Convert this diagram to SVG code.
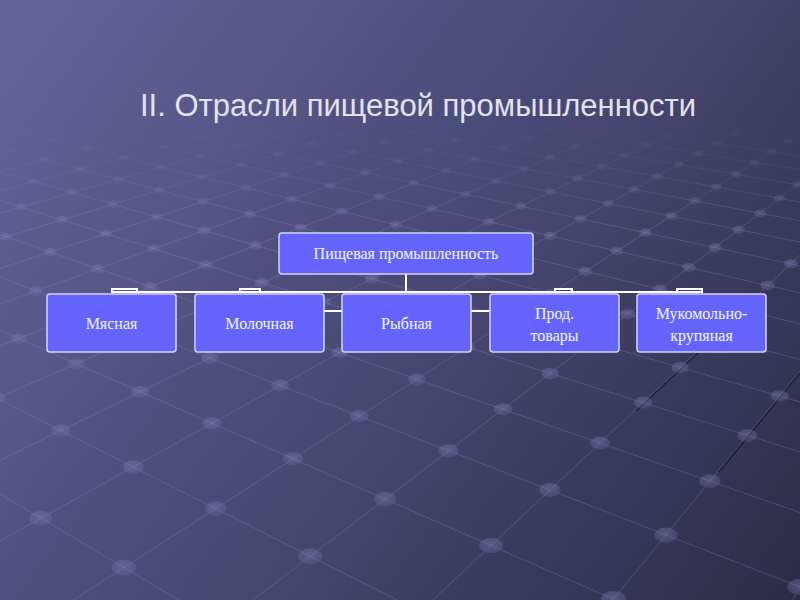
<svg xmlns="http://www.w3.org/2000/svg" xmlns:xlink="http://www.w3.org/1999/xlink" width="800" height="600" viewBox="0 0 800 600">
<defs>
<linearGradient id="bg" x1="0" y1="0" x2="800" y2="600" gradientUnits="userSpaceOnUse">
<stop offset="0" stop-color="#64649a"/>
<stop offset="0.45" stop-color="#4c4c7a"/>
<stop offset="1" stop-color="#2c2c46"/>
</linearGradient>
<linearGradient id="fade" x1="0" y1="118" x2="0" y2="230" gradientUnits="userSpaceOnUse">
<stop offset="0" stop-color="#000"/>
<stop offset="1" stop-color="#fff"/>
</linearGradient>
<mask id="gm"><rect x="0" y="0" width="800" height="600" fill="url(#fade)"/></mask>
<radialGradient id="dg" cx="0.45" cy="0.35" r="0.7">
<stop offset="0" stop-color="#8484bc" stop-opacity="0.42"/>
<stop offset="1" stop-color="#6a6aa0" stop-opacity="0.3"/>
</radialGradient>
<ellipse id="d" cx="0" cy="0" rx="10" ry="6.5" fill="url(#dg)"/>
<style>
.gl{stroke:#9a9acc;stroke-opacity:0.26;stroke-width:1;fill:none}
.sh{stroke:#0a0a18;stroke-opacity:0.6;stroke-width:1.2;fill:none}
.box{fill:#6464fc;stroke:#d4d4ff;stroke-width:1.5}
.lbl{font-family:"Liberation Serif","Times New Roman",serif;font-size:16px;fill:#f4f4ff;text-anchor:middle}
.con{stroke:#ffffff;stroke-width:2;fill:none}
.title{font-family:"Liberation Sans",Arial,sans-serif;font-size:31px;fill:#e2e2ee}
</style>
</defs>
<rect x="0" y="0" width="800" height="600" fill="url(#bg)"/>
<g id="grid" mask="url(#gm)">
<g id="vlines">
<line class="gl" x1="0" y1="493.9" x2="178.6" y2="600"/>
<line class="gl" x1="0" y1="399.8" x2="396.9" y2="600"/>
<line class="gl" x1="0" y1="330.3" x2="615.2" y2="600"/>
<line class="gl" x1="0" y1="276.9" x2="800" y2="586.9"/>
<line class="gl" x1="0" y1="234.6" x2="800" y2="512.5"/>
<line class="gl" x1="0" y1="200.3" x2="800" y2="452.0"/>
<line class="gl" x1="0" y1="171.9" x2="800" y2="401.9"/>
<line class="gl" x1="0" y1="148.0" x2="800" y2="359.5"/>
<line class="gl" x1="0" y1="127.6" x2="800" y2="323.8"/>
<line class="gl" x1="21.9" y1="115" x2="800" y2="292.9"/>
<line class="gl" x1="95.2" y1="115" x2="800" y2="265.8"/>
<line class="gl" x1="168.5" y1="115" x2="800" y2="242.0"/>
<line class="gl" x1="241.8" y1="115" x2="800" y2="220.8"/>
<line class="gl" x1="315.2" y1="115" x2="800" y2="202.0"/>
<line class="gl" x1="388.3" y1="115" x2="800" y2="185.1"/>
<line class="gl" x1="461.7" y1="115" x2="800" y2="169.8"/>
<line class="gl" x1="534.9" y1="115" x2="800" y2="156.0"/>
<line class="gl" x1="608.4" y1="115" x2="800" y2="143.2"/>
<line class="gl" x1="681.7" y1="115" x2="800" y2="131.7"/>
<line class="gl" x1="754.6" y1="115" x2="800" y2="121.2"/>
</g>
<g id="ulines">
<line class="gl" x1="792.5" y1="600" x2="800" y2="586.9"/>
<line class="gl" x1="612.7" y1="600" x2="800" y2="371.1"/>
<line class="gl" x1="432.9" y1="600" x2="800" y2="255.1"/>
<line class="gl" x1="253" y1="600" x2="800" y2="182.7"/>
<line class="gl" x1="73.3" y1="600" x2="800" y2="133.3"/>
<line class="gl" x1="0" y1="540.9" x2="768.1" y2="115"/>
<line class="gl" x1="0" y1="460.3" x2="707.8" y2="115"/>
<line class="gl" x1="0" y1="396.9" x2="647.4" y2="115"/>
<line class="gl" x1="0" y1="345.9" x2="587.0" y2="115"/>
<line class="gl" x1="0" y1="303.9" x2="526.7" y2="115"/>
<line class="gl" x1="0" y1="268.6" x2="466.3" y2="115"/>
<line class="gl" x1="0" y1="238.7" x2="406.0" y2="115"/>
<line class="gl" x1="0" y1="213.0" x2="345.6" y2="115"/>
<line class="gl" x1="0" y1="190.6" x2="285.2" y2="115"/>
<line class="gl" x1="0" y1="170.9" x2="224.8" y2="115"/>
<line class="gl" x1="0" y1="153.5" x2="164.5" y2="115"/>
<line class="gl" x1="0" y1="138.1" x2="104.2" y2="115"/>
<line class="gl" x1="0" y1="124.2" x2="43.7" y2="115"/>
</g>
<g id="shadows">
<line class="sh" x1="702" y1="349" x2="636" y2="411"/>
<line class="sh" x1="800" y1="373" x2="719" y2="472"/>
</g>
<g id="dots">
<use xlink:href="#d" transform="translate(123.9,567.5) scale(1.22)"/>
<use xlink:href="#d" transform="translate(40.9,518.2) scale(1.13)"/>
<use xlink:href="#d" transform="translate(310.3,556.2) scale(1.2)"/>
<use xlink:href="#d" transform="translate(215.7,508.5) scale(1.11)"/>
<use xlink:href="#d" transform="translate(133.3,466.9) scale(1.04)"/>
<use xlink:href="#d" transform="translate(61,430.5) scale(0.98)"/>
<use xlink:href="#d" transform="translate(-3,398.2) scale(0.92)"/>
<use xlink:href="#d" transform="translate(613.4,599.2) scale(1.27)"/>
<use xlink:href="#d" transform="translate(490.9,545.5) scale(1.18)"/>
<use xlink:href="#d" transform="translate(385.2,499.1) scale(1.1)"/>
<use xlink:href="#d" transform="translate(293.2,458.8) scale(1.03)"/>
<use xlink:href="#d" transform="translate(212.1,423.3) scale(0.97)"/>
<use xlink:href="#d" transform="translate(140.4,391.8) scale(0.91)"/>
<use xlink:href="#d" transform="translate(76.3,363.7) scale(0.86)"/>
<use xlink:href="#d" transform="translate(18.8,338.5) scale(0.82)"/>
<use xlink:href="#d" transform="translate(799.9,586.9) scale(1.25)"/>
<use xlink:href="#d" transform="translate(665.9,535) scale(1.16)"/>
<use xlink:href="#d" transform="translate(549.9,490) scale(1.08)"/>
<use xlink:href="#d" transform="translate(448.6,450.7) scale(1.01)"/>
<use xlink:href="#d" transform="translate(359.4,416.2) scale(0.95)"/>
<use xlink:href="#d" transform="translate(280.2,385.5) scale(0.9)"/>
<use xlink:href="#d" transform="translate(209.5,358.1) scale(0.85)"/>
<use xlink:href="#d" transform="translate(145.8,333.4) scale(0.81)"/>
<use xlink:href="#d" transform="translate(88.3,311.1) scale(0.77)"/>
<use xlink:href="#d" transform="translate(36.1,290.9) scale(0.73)"/>
<use xlink:href="#d" transform="translate(709.9,481.2) scale(1.07)"/>
<use xlink:href="#d" transform="translate(600,443) scale(1)"/>
<use xlink:href="#d" transform="translate(503,409.3) scale(0.94)"/>
<use xlink:href="#d" transform="translate(416.8,379.4) scale(0.89)"/>
<use xlink:href="#d" transform="translate(339.6,352.6) scale(0.84)"/>
<use xlink:href="#d" transform="translate(270.2,328.5) scale(0.8)"/>
<use xlink:href="#d" transform="translate(207.3,306.6) scale(0.76)"/>
<use xlink:href="#d" transform="translate(150.2,286.8) scale(0.73)"/>
<use xlink:href="#d" transform="translate(98.1,268.7) scale(0.7)"/>
<use xlink:href="#d" transform="translate(50.2,252.1) scale(0.67)"/>
<use xlink:href="#d" transform="translate(6.3,236.8) scale(0.64)"/>
<use xlink:href="#d" transform="translate(747.4,435.5) scale(0.99)"/>
<use xlink:href="#d" transform="translate(643,402.6) scale(0.93)"/>
<use xlink:href="#d" transform="translate(550.1,373.4) scale(0.88)"/>
<use xlink:href="#d" transform="translate(466.9,347.2) scale(0.83)"/>
<use xlink:href="#d" transform="translate(391.9,323.6) scale(0.79)"/>
<use xlink:href="#d" transform="translate(324,302.3) scale(0.75)"/>
<use xlink:href="#d" transform="translate(262.1,282.8) scale(0.72)"/>
<use xlink:href="#d" transform="translate(205.6,265) scale(0.69)"/>
<use xlink:href="#d" transform="translate(153.8,248.7) scale(0.66)"/>
<use xlink:href="#d" transform="translate(106.1,233.7) scale(0.63)"/>
<use xlink:href="#d" transform="translate(62,219.8) scale(0.61)"/>
<use xlink:href="#d" transform="translate(21.2,207) scale(0.59)"/>
<use xlink:href="#d" transform="translate(779.6,396.1) scale(0.92)"/>
<use xlink:href="#d" transform="translate(680.3,367.5) scale(0.87)"/>
<use xlink:href="#d" transform="translate(591.3,341.9) scale(0.82)"/>
<use xlink:href="#d" transform="translate(511,318.8) scale(0.78)"/>
<use xlink:href="#d" transform="translate(438.2,297.9) scale(0.75)"/>
<use xlink:href="#d" transform="translate(371.9,278.8) scale(0.71)"/>
<use xlink:href="#d" transform="translate(311.2,261.4) scale(0.68)"/>
<use xlink:href="#d" transform="translate(255.5,245.4) scale(0.66)"/>
<use xlink:href="#d" transform="translate(204.2,230.6) scale(0.63)"/>
<use xlink:href="#d" transform="translate(156.8,217) scale(0.61)"/>
<use xlink:href="#d" transform="translate(112.8,204.3) scale(0.58)"/>
<use xlink:href="#d" transform="translate(71.9,192.6) scale(0.56)"/>
<use xlink:href="#d" transform="translate(33.8,181.6) scale(0.54)"/>
<use xlink:href="#d" transform="translate(713.1,336.8) scale(0.81)"/>
<use xlink:href="#d" transform="translate(627.7,314.2) scale(0.78)"/>
<use xlink:href="#d" transform="translate(550.2,293.7) scale(0.74)"/>
<use xlink:href="#d" transform="translate(479.6,275) scale(0.71)"/>
<use xlink:href="#d" transform="translate(414.9,257.9) scale(0.68)"/>
<use xlink:href="#d" transform="translate(355.5,242.1) scale(0.65)"/>
<use xlink:href="#d" transform="translate(300.7,227.6) scale(0.62)"/>
<use xlink:href="#d" transform="translate(250,214.2) scale(0.6)"/>
<use xlink:href="#d" transform="translate(203,201.7) scale(0.58)"/>
<use xlink:href="#d" transform="translate(159.3,190.2) scale(0.56)"/>
<use xlink:href="#d" transform="translate(118.5,179.4) scale(0.54)"/>
<use xlink:href="#d" transform="translate(80.4,169.3) scale(0.52)"/>
<use xlink:href="#d" transform="translate(44.7,159.8) scale(0.51)"/>
<use xlink:href="#d" transform="translate(11.2,150.9) scale(0.49)"/>
<use xlink:href="#d" transform="translate(742,309.6) scale(0.77)"/>
<use xlink:href="#d" transform="translate(660,289.5) scale(0.73)"/>
<use xlink:href="#d" transform="translate(585.3,271.2) scale(0.7)"/>
<use xlink:href="#d" transform="translate(516.7,254.4) scale(0.67)"/>
<use xlink:href="#d" transform="translate(453.7,238.9) scale(0.64)"/>
<use xlink:href="#d" transform="translate(395.6,224.6) scale(0.62)"/>
<use xlink:href="#d" transform="translate(341.8,211.4) scale(0.6)"/>
<use xlink:href="#d" transform="translate(291.9,199.2) scale(0.57)"/>
<use xlink:href="#d" transform="translate(245.4,187.8) scale(0.55)"/>
<use xlink:href="#d" transform="translate(202,177.2) scale(0.54)"/>
<use xlink:href="#d" transform="translate(161.5,167.2) scale(0.52)"/>
<use xlink:href="#d" transform="translate(123.4,157.9) scale(0.5)"/>
<use xlink:href="#d" transform="translate(87.7,149.1) scale(0.49)"/>
<use xlink:href="#d" transform="translate(54.1,140.9) scale(0.47)"/>
<use xlink:href="#d" transform="translate(22.5,133.1) scale(0.46)"/>
<use xlink:href="#d" transform="translate(767.7,285.5) scale(0.73)"/>
<use xlink:href="#d" transform="translate(689,267.4) scale(0.69)"/>
<use xlink:href="#d" transform="translate(616.8,251) scale(0.66)"/>
<use xlink:href="#d" transform="translate(550.3,235.8) scale(0.64)"/>
<use xlink:href="#d" transform="translate(489,221.7) scale(0.61)"/>
<use xlink:href="#d" transform="translate(432.1,208.7) scale(0.59)"/>
<use xlink:href="#d" transform="translate(379.3,196.7) scale(0.57)"/>
<use xlink:href="#d" transform="translate(330.2,185.5) scale(0.55)"/>
<use xlink:href="#d" transform="translate(284.3,175) scale(0.53)"/>
<use xlink:href="#d" transform="translate(241.4,165.2) scale(0.52)"/>
<use xlink:href="#d" transform="translate(201.1,156) scale(0.5)"/>
<use xlink:href="#d" transform="translate(163.3,147.3) scale(0.48)"/>
<use xlink:href="#d" transform="translate(127.7,139.2) scale(0.47)"/>
<use xlink:href="#d" transform="translate(94.2,131.5) scale(0.46)"/>
<use xlink:href="#d" transform="translate(62.4,124.3) scale(0.44)"/>
<use xlink:href="#d" transform="translate(790.8,263.8) scale(0.69)"/>
<use xlink:href="#d" transform="translate(715,247.6) scale(0.66)"/>
<use xlink:href="#d" transform="translate(645.3,232.7) scale(0.63)"/>
<use xlink:href="#d" transform="translate(580.8,218.9) scale(0.61)"/>
<use xlink:href="#d" transform="translate(521.1,206.1) scale(0.59)"/>
<use xlink:href="#d" transform="translate(465.5,194.2) scale(0.57)"/>
<use xlink:href="#d" transform="translate(413.8,183.1) scale(0.55)"/>
<use xlink:href="#d" transform="translate(365.5,172.8) scale(0.53)"/>
<use xlink:href="#d" transform="translate(320.2,163.1) scale(0.51)"/>
<use xlink:href="#d" transform="translate(277.8,154.1) scale(0.5)"/>
<use xlink:href="#d" transform="translate(237.9,145.5) scale(0.48)"/>
<use xlink:href="#d" transform="translate(200.4,137.5) scale(0.47)"/>
<use xlink:href="#d" transform="translate(165,129.9) scale(0.45)"/>
<use xlink:href="#d" transform="translate(738.6,229.6) scale(0.63)"/>
<use xlink:href="#d" transform="translate(671.1,216.1) scale(0.6)"/>
<use xlink:href="#d" transform="translate(608.5,203.5) scale(0.58)"/>
<use xlink:href="#d" transform="translate(550.4,191.8) scale(0.56)"/>
<use xlink:href="#d" transform="translate(496.1,180.9) scale(0.54)"/>
<use xlink:href="#d" transform="translate(445.5,170.7) scale(0.52)"/>
<use xlink:href="#d" transform="translate(398,161.1) scale(0.51)"/>
<use xlink:href="#d" transform="translate(353.5,152.2) scale(0.49)"/>
<use xlink:href="#d" transform="translate(311.6,143.8) scale(0.48)"/>
<use xlink:href="#d" transform="translate(272.1,135.8) scale(0.46)"/>
<use xlink:href="#d" transform="translate(234.9,128.3) scale(0.45)"/>
<use xlink:href="#d" transform="translate(760,213.3) scale(0.6)"/>
<use xlink:href="#d" transform="translate(694.7,200.9) scale(0.58)"/>
<use xlink:href="#d" transform="translate(634,189.4) scale(0.56)"/>
<use xlink:href="#d" transform="translate(577.3,178.6) scale(0.54)"/>
<use xlink:href="#d" transform="translate(524.4,168.6) scale(0.52)"/>
<use xlink:href="#d" transform="translate(474.7,159.2) scale(0.5)"/>
<use xlink:href="#d" transform="translate(428.2,150.3) scale(0.49)"/>
<use xlink:href="#d" transform="translate(384.3,142) scale(0.47)"/>
<use xlink:href="#d" transform="translate(343,134.2) scale(0.46)"/>
<use xlink:href="#d" transform="translate(304,126.8) scale(0.45)"/>
<use xlink:href="#d" transform="translate(779.5,198.4) scale(0.57)"/>
<use xlink:href="#d" transform="translate(716.3,187) scale(0.55)"/>
<use xlink:href="#d" transform="translate(657.3,176.4) scale(0.53)"/>
<use xlink:href="#d" transform="translate(602.2,166.5) scale(0.52)"/>
<use xlink:href="#d" transform="translate(550.4,157.2) scale(0.5)"/>
<use xlink:href="#d" transform="translate(501.8,148.5) scale(0.49)"/>
<use xlink:href="#d" transform="translate(456.1,140.3) scale(0.47)"/>
<use xlink:href="#d" transform="translate(413,132.6) scale(0.46)"/>
<use xlink:href="#d" transform="translate(372.3,125.3) scale(0.45)"/>
<use xlink:href="#d" transform="translate(797.5,184.7) scale(0.55)"/>
<use xlink:href="#d" transform="translate(736.2,174.2) scale(0.53)"/>
<use xlink:href="#d" transform="translate(678.9,164.5) scale(0.51)"/>
<use xlink:href="#d" transform="translate(625.1,155.3) scale(0.5)"/>
<use xlink:href="#d" transform="translate(574.6,146.7) scale(0.48)"/>
<use xlink:href="#d" transform="translate(527,138.6) scale(0.47)"/>
<use xlink:href="#d" transform="translate(482.2,131) scale(0.46)"/>
<use xlink:href="#d" transform="translate(754.6,162.5) scale(0.51)"/>
<use xlink:href="#d" transform="translate(698.8,153.4) scale(0.49)"/>
<use xlink:href="#d" transform="translate(646.4,144.9) scale(0.48)"/>
<use xlink:href="#d" transform="translate(597.1,136.9) scale(0.47)"/>
<use xlink:href="#d" transform="translate(550.5,129.4) scale(0.45)"/>
<use xlink:href="#d" transform="translate(771.5,151.6) scale(0.49)"/>
<use xlink:href="#d" transform="translate(717.3,143.2) scale(0.48)"/>
<use xlink:href="#d" transform="translate(666.2,135.3) scale(0.46)"/>
<use xlink:href="#d" transform="translate(618,127.8) scale(0.45)"/>
<use xlink:href="#d" transform="translate(787.3,141.5) scale(0.47)"/>
<use xlink:href="#d" transform="translate(734.5,133.6) scale(0.46)"/>
<use xlink:href="#d" transform="translate(684.7,126.3) scale(0.45)"/>
</g>
</g>
<text class="title" x="140" y="116">II. Отрасли пищевой промышленности</text>
<g id="connectors">
<line class="con" x1="406" y1="274" x2="406" y2="292"/>
<line class="con" x1="111" y1="292" x2="702" y2="292"/>
<path class="con" d="M112,293 V289 H137 V293"/>
<path class="con" d="M240,293 V289 H260 V293"/>
<path class="con" d="M555,293 V289 H572 V293"/>
<path class="con" d="M677,293 V289 H702 V293"/>
<line class="con" x1="323" y1="311" x2="343" y2="311"/>
<line class="con" x1="470" y1="311" x2="491" y2="311"/>
</g>
<g id="node-root">
<rect class="box" x="279" y="233" width="254" height="41" rx="3"/>
<text class="lbl" x="406" y="259">Пищевая промышленность</text>
</g>
<g id="node-meat">
<rect class="box" x="47" y="294" width="129" height="58" rx="3"/>
<text class="lbl" x="111.5" y="328.5">Мясная</text>
</g>
<g id="node-dairy">
<rect class="box" x="195" y="294" width="129" height="58" rx="3"/>
<text class="lbl" x="259.5" y="328.5">Молочная</text>
</g>
<g id="node-fish">
<rect class="box" x="342" y="294" width="129" height="58" rx="3"/>
<text class="lbl" x="406.5" y="328.5">Рыбная</text>
</g>
<g id="node-food">
<rect class="box" x="490" y="294" width="129" height="58" rx="3"/>
<text class="lbl" x="554.5" y="318.5">Прод.</text>
<text class="lbl" x="554.5" y="340.5">товары</text>
</g>
<g id="node-flour">
<rect class="box" x="637" y="294" width="129" height="58" rx="3"/>
<text class="lbl" x="701.5" y="318.5">Мукомольно-</text>
<text class="lbl" x="701.5" y="340.5">крупяная</text>
</g>
</svg>
